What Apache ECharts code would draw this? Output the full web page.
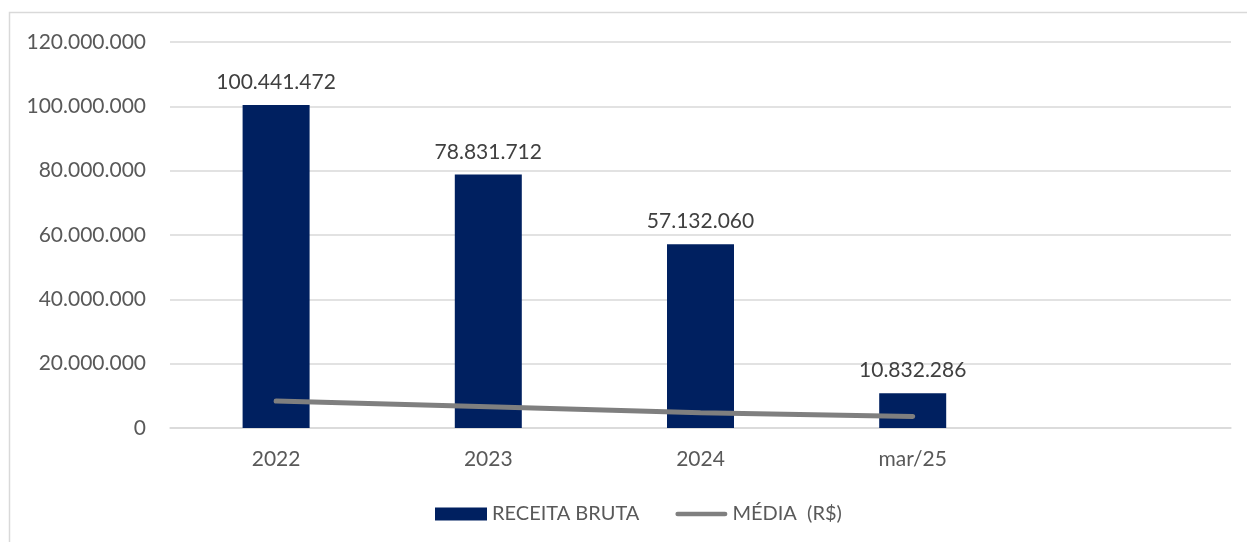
<!DOCTYPE html>
<html>
<head>
<meta charset="utf-8">
<script src="https://cdn.jsdelivr.net/npm/echarts@6/dist/echarts.min.js"></script>
<style>
html,body{margin:0;padding:0;background:#fff;}
#c{width:1247px;height:542px;}
</style>
</head>
<body>
<div id="c"></div>
<script>
const categories = ['2022', '2023', '2024', 'mar/25', ''];
const receitaBruta = [100441472, 78831712, 57132060, 10832286, null];
const media = [8370123, 6569309, 4761005, 3610762, null];
const yTicks = [0, 20000000, 40000000, 60000000, 80000000, 100000000, 120000000];

function fmt(v) {
  return String(Math.round(v)).replace(/\B(?=(\d{3})+(?!\d))/g, '.');
}

const FONT = 'Lato';
const TXT = '#595959';

const chart = echarts.init(document.getElementById('c'), null, {renderer: 'canvas'});
chart.setOption({
  animation: false,
  backgroundColor: '#fff',
  graphic: [{
    type: 'rect',
    shape: {x: 9.5, y: 12.5, width: 1260, height: 560},
    style: {fill: 'none', stroke: '#d9d9d9', lineWidth: 1.5},
    silent: true, z: -1
  }],
  grid: {left: 170, right: 16, top: 42, bottom: 114, containLabel: false},
  legend: {
    top: 499,
    left: 430,
    itemWidth: 52,
    itemHeight: 13,
    itemGap: 36,
    textStyle: {color: TXT, fontFamily: FONT, fontSize: 20},
    data: [
      {name: 'RECEITA BRUTA', icon: 'rect'},
      {name: 'MÉDIA  (R$)', icon: 'path://M2.5,0 L53.5,0 A2.5,2.5 0 0 1 53.5,5 L2.5,5 A2.5,2.5 0 0 1 2.5,0 Z'}
    ]
  },
  xAxis: {
    type: 'category',
    data: categories,
    axisLine: {show: true, lineStyle: {color: '#d9d9d9', width: 1.5}},
    axisTick: {show: false},
    axisLabel: {color: TXT, fontFamily: FONT, fontSize: 21, margin: 21}
  },
  yAxis: {
    type: 'value',
    min: 0,
    max: 120000000,
    interval: 20000000,
    axisLine: {show: false},
    axisTick: {show: false},
    splitLine: {lineStyle: {color: '#d9d9d9', width: 1.5}},
    axisLabel: {
      color: TXT, fontFamily: FONT, fontSize: 21, margin: 24,
      formatter: v => yTicks.includes(v) ? fmt(v) : ''
    }
  },
  series: [
    {
      name: 'RECEITA BRUTA',
      type: 'bar',
      data: receitaBruta,
      barWidth: 67,
      itemStyle: {color: '#002060'},
      label: {
        show: true,
        position: 'top',
        distance: 12,
        color: '#404040',
        fontFamily: FONT,
        fontSize: 21,
        formatter: p => fmt(p.value)
      }
    },
    {
      name: 'MÉDIA  (R$)',
      type: 'line',
      data: media,
      symbol: 'none',
      lineStyle: {color: '#7f7f7f', width: 5, cap: 'round'},
      itemStyle: {color: '#7f7f7f'},
      z: 3
    }
  ]
});
</script>
</body>
</html>
